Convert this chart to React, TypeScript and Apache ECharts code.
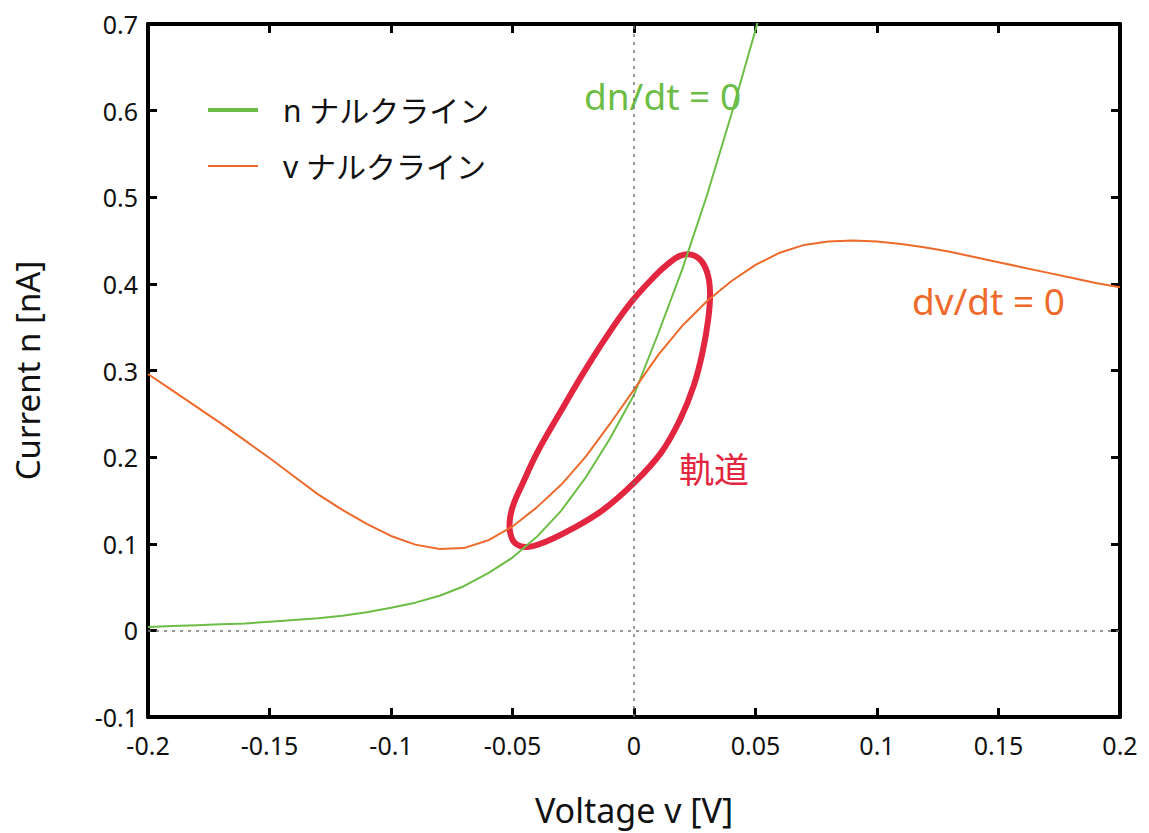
import { useEffect, useRef } from "react";
import * as echarts from "echarts";

// Membrane voltage samples [V] (step 0.01)
const voltage = [
  -0.2, -0.19, -0.18, -0.17, -0.16, -0.15, -0.14, -0.13, -0.12, -0.11, -0.1,
  -0.09, -0.08, -0.07, -0.06, -0.05, -0.04, -0.03, -0.02, -0.01, 0, 0.01, 0.02,
  0.03, 0.04, 0.05, 0.06, 0.07, 0.08, 0.09, 0.1, 0.11, 0.12, 0.13, 0.14, 0.15,
  0.16, 0.17, 0.18, 0.19, 0.2,
];

// n-nullcline (dn/dt = 0), defined from -0.2 V to 0.06 V
const nNullcline = [
  0.004, 0.005, 0.006, 0.007, 0.008, 0.01, 0.012, 0.014, 0.017, 0.021, 0.026,
  0.032, 0.04, 0.051, 0.066, 0.084, 0.108, 0.138, 0.176, 0.221, 0.272, 0.343,
  0.418, 0.502, 0.595, 0.693, 0.8,
];

// v-nullcline (dv/dt = 0), defined over the whole voltage range
const vNullcline = [
  0.296, 0.277, 0.258, 0.239, 0.219, 0.199, 0.178, 0.157, 0.139, 0.123, 0.109,
  0.099, 0.094, 0.095, 0.104, 0.12, 0.142, 0.168, 0.2, 0.238, 0.278, 0.318,
  0.352, 0.38, 0.403, 0.422, 0.436, 0.445, 0.449, 0.45, 0.449, 0.446, 0.442,
  0.437, 0.431, 0.425, 0.419, 0.413, 0.407, 0.401, 0.396,
];

// Limit-cycle trajectory (closed orbit), points in order around the loop
const orbitV = [
  0.0189, 0.0239, 0.028, 0.0305, 0.0313, 0.0305, 0.0284, 0.0247, 0.0189,
  0.0111, 0.0, -0.0128, -0.0263, -0.0366, -0.044, -0.049, -0.051, -0.051,
  -0.0494, -0.0461, -0.0399, -0.0305, -0.0193, -0.0086, -0.0004, 0.0086, 0.014,
];
const orbitN = [
  0.4323, 0.4335, 0.4254, 0.4092, 0.3873, 0.3584, 0.3238, 0.2834, 0.243,
  0.2049, 0.1702, 0.139, 0.116, 0.1021, 0.0963, 0.1009, 0.1136, 0.1298, 0.1471,
  0.1679, 0.2049, 0.2511, 0.3042, 0.3504, 0.3815, 0.4092, 0.4231,
];

const xTicks = { min: -0.2, max: 0.2, interval: 0.05 };
const yTicks = { min: -0.1, max: 0.7, interval: 0.1 };

const seriesNames = ["n ナルクライン", "v ナルクライン"];

const GREEN = "#6cbd45";
const ORANGE = "#ee6a2b";
const RED = "#e2263f";
const FONT = "'Noto Sans', 'Noto Sans CJK JP', sans-serif";

export default function App() {
  const ref = useRef<HTMLDivElement>(null);

  useEffect(() => {
    if (!ref.current) return;
    const chart = echarts.init(ref.current, undefined, { renderer: "svg" });

    const nData = nNullcline.map((n, i) => [voltage[i], n]);
    const vData = vNullcline.map((n, i) => [voltage[i], n]);
    const orbitData = orbitV.map((v, i) => [v, orbitN[i]]);

    const frameAxis = (extra: any) => ({
      type: "value",
      splitLine: { show: false },
      axisLine: { show: true, onZero: false, lineStyle: { color: "#000", width: 4 } },
      axisTick: { show: true, inside: true, length: 9, lineStyle: { color: "#000", width: 3 } },
      ...extra,
    });

    chart.setOption({
      animation: false,
      backgroundColor: "#fff",
      textStyle: { fontFamily: FONT },
      grid: { left: 148, right: 29, top: 24, bottom: 116 },
      legend: [
        {
          data: [seriesNames[0]],
          left: 208,
          top: 95,
          padding: 0,
          icon: "rect",
          itemWidth: 50,
          itemHeight: 4,
          textStyle: { fontSize: 30, color: "#111", fontFamily: FONT, padding: [0, 0, 0, 20] },
        },
        {
          data: [seriesNames[1]],
          left: 208,
          top: 151,
          padding: 0,
          icon: "rect",
          itemWidth: 50,
          itemHeight: 2,
          textStyle: { fontSize: 30, color: "#111", fontFamily: FONT, padding: [0, 0, 0, 20] },
        },
      ],
      xAxis: [
        frameAxis({
          ...xTicks,
          position: "bottom",
          axisLabel: { fontSize: 25, color: "#111", margin: 15 },
          name: "Voltage v [V]",
          nameLocation: "middle",
          nameGap: 76,
          nameTextStyle: { fontSize: 34, color: "#111" },
        }),
        frameAxis({ ...xTicks, position: "top", axisLabel: { show: false } }),
      ],
      yAxis: [
        frameAxis({
          ...yTicks,
          position: "left",
          axisLabel: { fontSize: 25, color: "#111", margin: 10 },
          name: "Current n [nA]",
          nameLocation: "middle",
          nameGap: 104,
          nameTextStyle: { fontSize: 33, color: "#111" },
        }),
        frameAxis({ ...yTicks, position: "right", axisLabel: { show: false } }),
      ],
      series: [
        {
          name: "軌道",
          type: "custom",
          silent: true,
          z: 1,
          data: orbitData,
          // the whole closed loop is drawn once, as a smoothed polygon outline
          renderItem: (params: any, api: any) => {
            if (params.dataIndex !== 0) return null;
            const points = orbitData.map((p) => api.coord(p));
            return {
              type: "polygon",
              shape: { points, smooth: 0.4 },
              style: { fill: "none", stroke: RED, lineWidth: 6 },
            };
          },
        },
        {
          name: seriesNames[0],
          type: "line",
          data: nData,
          showSymbol: false,
          color: GREEN,
          lineStyle: { color: GREEN, width: 2 },
          z: 3,
          markLine: {
            silent: true,
            symbol: ["none", "none"],
            label: { show: false },
            lineStyle: { color: "#777", width: 1.5, type: [3, 5] },
            data: [{ xAxis: 0 }, { yAxis: 0 }],
          },
        },
        {
          name: seriesNames[1],
          type: "line",
          data: vData,
          showSymbol: false,
          color: ORANGE,
          lineStyle: { color: ORANGE, width: 2 },
          z: 3,
        },
      ],
      graphic: [
        {
          type: "text",
          left: 584,
          top: 77,
          style: { text: "dn/dt = 0", fill: GREEN, font: `37px ${FONT}` },
        },
        {
          type: "text",
          left: 912,
          top: 282,
          style: { text: "dv/dt = 0", fill: ORANGE, font: `37px ${FONT}` },
        },
        {
          type: "text",
          left: 679,
          top: 452,
          style: { text: "軌道", fill: RED, font: `35px ${FONT}` },
        },
      ],
    });

    return () => chart.dispose();
  }, []);

  return (
    <div
      ref={ref}
      style={{ position: "absolute", left: 0, top: 0, width: 1149, height: 833 }}
    />
  );
}
